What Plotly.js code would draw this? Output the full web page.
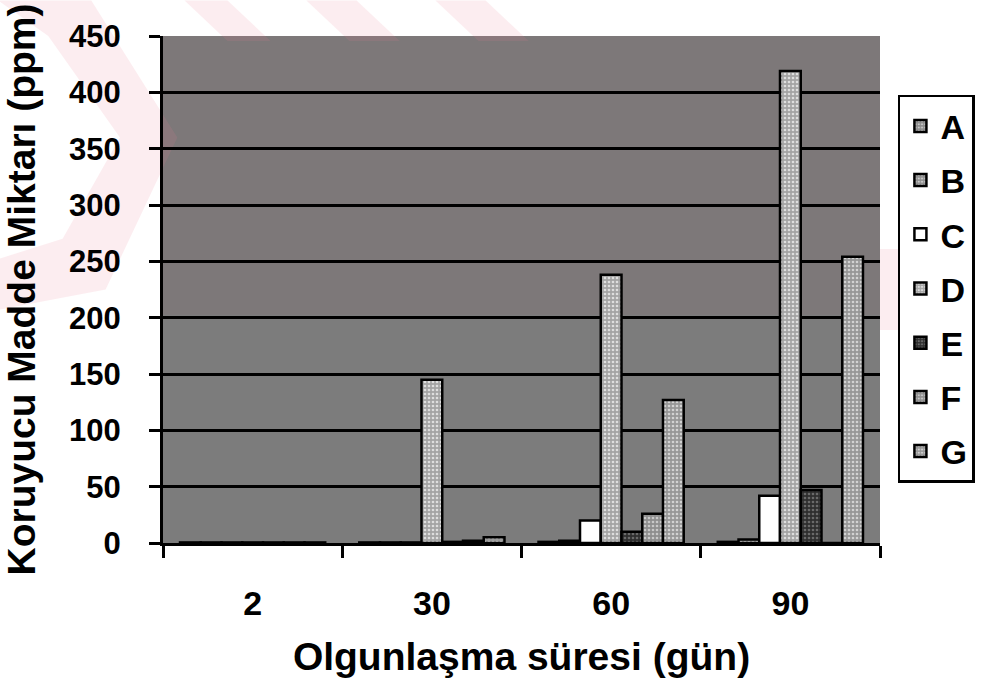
<!DOCTYPE html>
<html>
<head>
<meta charset="utf-8">
<script src="https://cdn.plot.ly/plotly-3.0.1.min.js"></script>
<style>html,body{margin:0;padding:0;background:#fff;}#chart{width:991px;height:696px;}</style>
</head>
<body>
<div id="chart"></div>
<script>
// Data
var categories = ["2", "30", "60", "90"];
var seriesNames = ["A", "B", "C", "D", "E", "F", "G"];
var valuesA = [0.5, 0.5, 1, 1];
var valuesB = [0.5, 0.5, 2, 3];
var valuesC = [0.5, 0.5, 20, 42];
var valuesD = [0.5, 145, 238, 419];
var valuesE = [0.5, 1, 10, 47];
var valuesF = [0.5, 2, 26, 0];
var valuesG = [0.5, 5, 127, 254];
var yTicks = [0, 50, 100, 150, 200, 250, 300, 350, 400, 450];

var allValues = [valuesA, valuesB, valuesC, valuesD, valuesE, valuesF, valuesG];
var fills = ["#8a8a8a", "#909090", "#ffffff", "#a4a4a4", "#2e2e2e", "#8e8e8e", "#979797"];
var fgs = ["#c8c8c8", "#cccccc", "#ffffff", "#dedede", "#6a6a6a", "#c8c8c8", "#d2d2d2"];
var FONT = "Liberation Sans, Arial, sans-serif";

var traces = seriesNames.map(function (name, i) {
  return {
    type: "bar",
    name: name,
    x: categories,
    y: allValues[i],
    legendgroup: name,
    marker: {
      color: fills[i],
      line: {color: "#000", width: 2.5},
      pattern: {shape: i === 2 ? "" : ".", fgcolor: fgs[i], bgcolor: fills[i], size: 4, solidity: 0.35}
    },
    hoverinfo: "skip"
  };
});

var pink = "rgba(235,130,150,0.14)";
var shapes = [
  // watermark approximations
  {type: "path", xref: "paper", yref: "paper", layer: "below",
   path: "M -0.23 1.07 L -0.1 1.07 L 0.02 0.8 L -0.08 0.5 L -0.23 0.46 L -0.23 0.56 L -0.14 0.6 L -0.06 0.8 L -0.16 1.0 Z",
   fillcolor: pink, line: {width: 0}},
  {type: "path", xref: "paper", yref: "paper", layer: "below",
   path: "M 0.03 1.07 L 0.09 1.07 L 0.15 0.99 L 0.09 0.99 Z", fillcolor: pink, line: {width: 0}},
  {type: "path", xref: "paper", yref: "paper", layer: "below",
   path: "M 0.2 1.07 L 0.27 1.07 L 0.33 0.99 L 0.26 0.99 Z", fillcolor: pink, line: {width: 0}},
  {type: "path", xref: "paper", yref: "paper", layer: "below",
   path: "M 0.38 1.07 L 0.45 1.07 L 0.51 0.99 L 0.44 0.99 Z", fillcolor: pink, line: {width: 0}},
  {type: "rect", xref: "paper", yref: "paper", layer: "below",
   x0: 0, x1: 1, y0: 0.45, y1: 1,
   fillcolor: "rgba(150,50,70,0.05)", line: {width: 0}},
  {type: "path", xref: "paper", yref: "paper", layer: "below",
   path: "M 1.0 0.58 L 1.025 0.58 L 1.025 0.42 L 1.0 0.42 Z", fillcolor: pink, line: {width: 0}}
];

var layout = {
  width: 991,
  height: 696,
  margin: {l: 163, r: 111, t: 36, b: 153},
  paper_bgcolor: "#ffffff",
  plot_bgcolor: "#7c7c7c",
  barmode: "group",
  bargap: 0.19,
  bargroupgap: 0,
  font: {family: FONT, color: "#000", size: 26},
  showlegend: true,
  legend: {
    x: 1.025, xanchor: "left", y: 0.884, yanchor: "top",
    bgcolor: "#ffffff", bordercolor: "#000", borderwidth: 2.5,
    font: {family: FONT, size: 34, weight: "bold", color: "#000"},
    traceorder: "grouped", tracegroupgap: 7, itemwidth: 30
  },
  xaxis: {
    type: "category",
    tickson: "boundaries",
    ticks: "outside", ticklen: 12, tickwidth: 3, tickcolor: "#000",
    showline: true, linecolor: "#000", linewidth: 3,
    showgrid: false, zeroline: false,
    tickfont: {family: FONT, size: 34, weight: "bold", color: "#000"},
    ticklabelstandoff: 28,
    title: {text: "Olgunlaşma süresi (gün)", standoff: 22,
            font: {family: FONT, size: 39, weight: "bold", color: "#000"}},
    automargin: false
  },
  yaxis: {
    range: [0, 450],
    tickvals: yTicks,
    ticktext: yTicks.map(String),
    ticks: "outside", ticklen: 11, tickwidth: 3, tickcolor: "#000",
    showline: true, linecolor: "#000", linewidth: 3, mirror: false,
    showgrid: true, gridcolor: "#000", gridwidth: 3,
    zeroline: false,
    tickfont: {family: FONT, size: 31, weight: "bold", color: "#000"},
    ticklabelstandoff: 22,
    title: {text: "Koruyucu Madde Miktarı (ppm)", standoff: 22,
            font: {family: FONT, size: 39, weight: "bold", color: "#000"}},
    automargin: false
  },
  shapes: shapes
};

Plotly.newPlot("chart", traces, layout, {staticPlot: true, displayModeBar: false});
</script>
</body>
</html>
